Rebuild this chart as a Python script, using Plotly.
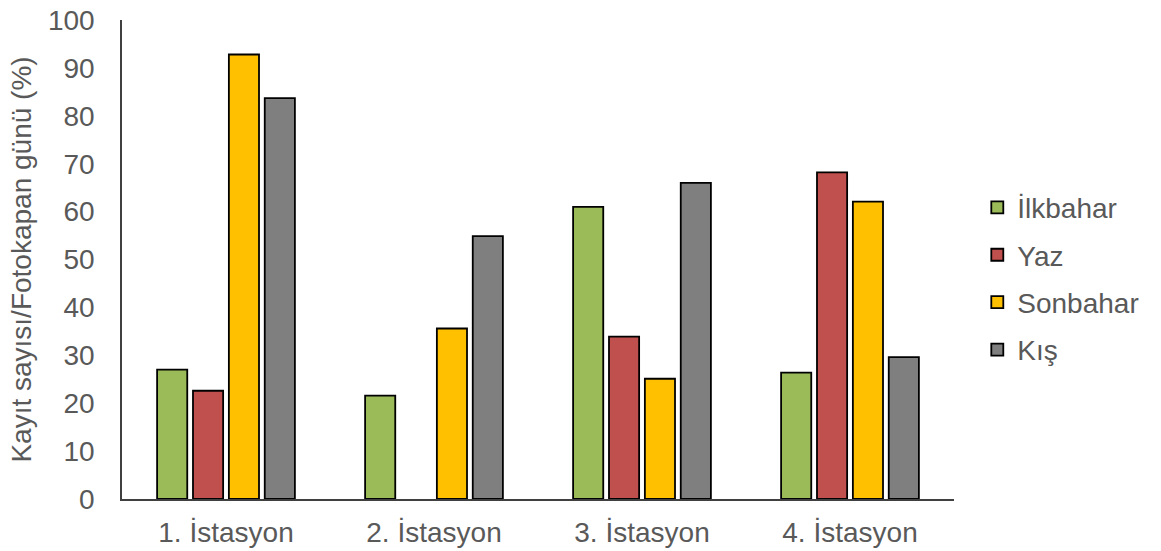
import plotly.graph_objects as go

stations = ["1. İstasyon", "2. İstasyon", "3. İstasyon", "4. İstasyon"]
ilkbahar = [27.0, 21.6, 61.0, 26.4]
yaz = [22.6, 0, 33.9, 68.2]
sonbahar = [92.8, 35.6, 25.1, 62.1]
kis = [83.7, 54.9, 66.0, 29.6]

series = [
    ("İlkbahar", ilkbahar, "#9BBB59"),
    ("Yaz", yaz, "#C0504D"),
    ("Sonbahar", sonbahar, "#FFC000"),
    ("Kış", kis, "#7F7F7F"),
]

fig = go.Figure()
for i, (name, vals, col) in enumerate(series):
    fig.add_trace(go.Bar(
        x=stations, y=vals, name=name, legendgroup=f"g{i}",
        marker=dict(color=col,
                    line=dict(color="black",
                              width=[0 if v == 0 else 1.8 for v in vals])),
    ))

font_color = "#595959"
fs = 28
fig.update_layout(
    width=1161, height=551,
    margin=dict(l=122, r=207, t=20, b=52),
    paper_bgcolor="white", plot_bgcolor="white",
    barmode="group", bargap=0.31, bargroupgap=0.16,
    font=dict(family="Liberation Sans, Arial", size=fs, color=font_color),
    showlegend=True,
    legend=dict(x=1.028, xanchor="left", y=0.46, yanchor="middle",
                tracegroupgap=8, font=dict(size=fs, color=font_color),
                bgcolor="rgba(0,0,0,0)"),
    xaxis=dict(showline=True, linecolor="#404040", linewidth=1.5,
               showgrid=False, ticks="", ticklabelstandoff=8, automargin=False,
               tickfont=dict(size=fs, color=font_color)),
    yaxis=dict(range=[0, 100], dtick=10, showline=True, linecolor="#404040",
               linewidth=1.5, showgrid=False, zeroline=False, ticks="",
               ticklabelstandoff=20, automargin=False,
               tickfont=dict(size=fs, color=font_color),
               title=dict(text="Kayıt sayısı/Fotokapan günü (%)",
                          font=dict(size=fs, color=font_color), standoff=8)),
)

fig.write_html("out.html")
